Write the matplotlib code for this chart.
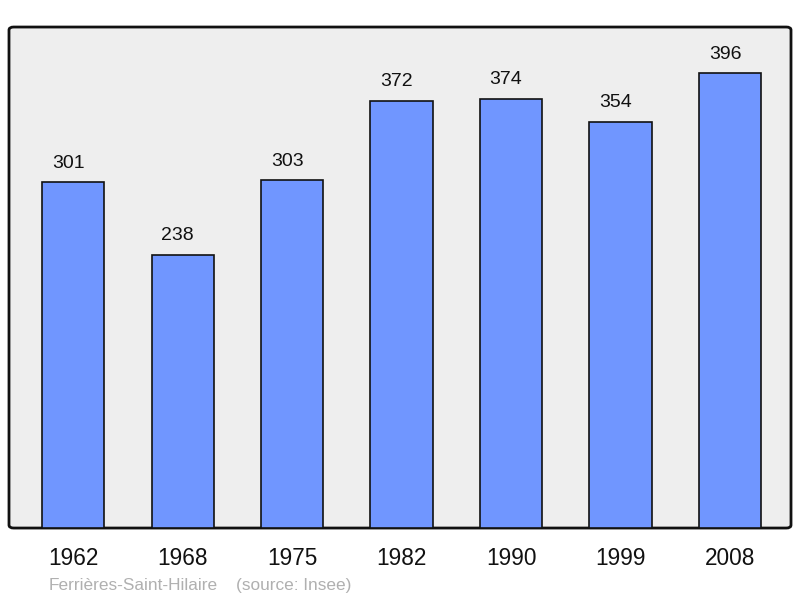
import matplotlib.pyplot as plt
from matplotlib.patches import FancyBboxPatch

plt.rcParams['font.family'] = ['Liberation Sans', 'DejaVu Sans']

years = ['1962', '1968', '1975', '1982', '1990', '1999', '2008']
population = [301, 238, 303, 372, 374, 354, 396]

fig = plt.figure(figsize=(8, 5.98), dpi=100)
ax = fig.add_axes([0.01125, 0.117, 0.9775, 0.8378])
ax.set_facecolor('none')

frame = FancyBboxPatch((0, 0), 1, 1, boxstyle='round,pad=0,rounding_size=0.006',
                       transform=ax.transAxes, facecolor='#eeeeee',
                       edgecolor='#111111', linewidth=2, zorder=0, clip_on=False)
ax.add_patch(frame)

x = range(len(years))
ax.bar(x, population, width=0.567, color='#7096ff', edgecolor='#111111',
       linewidth=1.2, zorder=2)
for i, v in enumerate(population):
    ax.annotate(str(v), (i, v), xytext=(-3.6, 10.5), textcoords='offset points',
                ha='center', va='baseline', fontsize=14, color='#111111')

ax.set_xlim(-0.585, 6.557)
ax.set_ylim(0, 436.4)
ax.set_yticks([])
ax.set_xticks(list(x))
ax.set_xticklabels(years, fontsize=16.3, color='#111111')
ax.tick_params(axis='x', length=0, pad=14)
for s in ax.spines.values():
    s.set_visible(False)

fig.text(49 / 800, 1 - 590 / 598, 'Ferrières-Saint-Hilaire',
         fontsize=12.4, color='#b0b0b0', ha='left', va='baseline')
fig.text(236 / 800, 1 - 590 / 598, '(source: Insee)',
         fontsize=12.4, color='#b0b0b0', ha='left', va='baseline')

fig.savefig('out.png', dpi=100)
